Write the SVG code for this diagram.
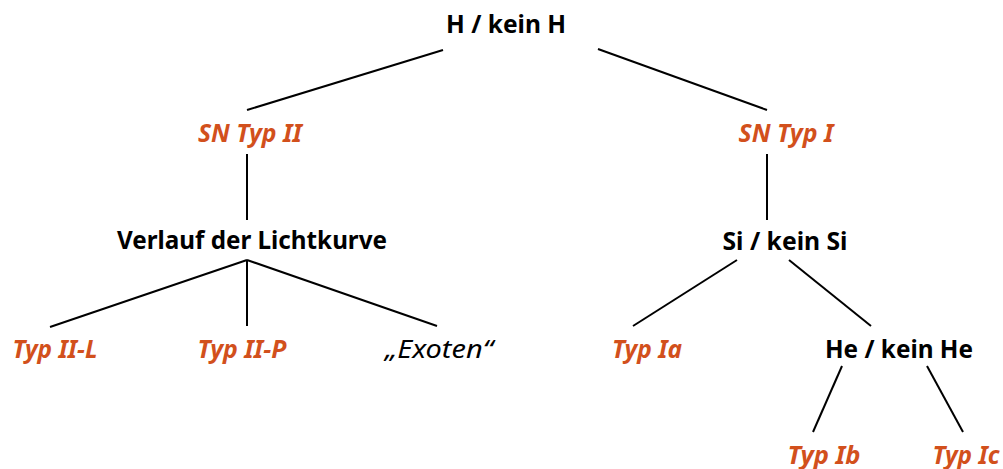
<svg xmlns="http://www.w3.org/2000/svg" width="1003" height="469" viewBox="0 0 1003 469">
<style>
text{font-family:"Noto Sans","Liberation Sans",sans-serif;font-weight:bold;font-size:25px;text-anchor:middle}
.q{fill:#000}
.t{fill:#D2501C;font-style:italic}
.e{fill:#000;font-style:italic;font-weight:normal}
#edges line{stroke:#000;stroke-width:2}
</style>
<rect width="1003" height="469" fill="#fff"/>
<g id="edges">
<line x1="443" y1="50" x2="247" y2="110"/>
<line x1="598" y1="49" x2="767" y2="110"/>
<line x1="247" y1="154" x2="247" y2="220"/>
<line x1="767" y1="154" x2="767" y2="220"/>
<line x1="247" y1="260" x2="50" y2="327"/>
<line x1="247" y1="260" x2="247" y2="326"/>
<line x1="247" y1="260" x2="437" y2="326"/>
<line x1="737" y1="260" x2="633" y2="326"/>
<line x1="789" y1="260" x2="871" y2="326"/>
<line x1="842" y1="366" x2="813" y2="432"/>
<line x1="927" y1="366" x2="963" y2="432"/>
</g>
<g id="n-root"><text class="q" x="506" y="33" textLength="120" lengthAdjust="spacingAndGlyphs">H / kein H</text></g>
<g id="n-sn2"><text class="t" x="250" y="142" textLength="104" lengthAdjust="spacingAndGlyphs">SN Typ II</text></g>
<g id="n-sn1"><text class="t" x="786" y="142" textLength="95" lengthAdjust="spacingAndGlyphs">SN Typ I</text></g>
<g id="n-verlauf"><text class="q" x="252" y="249" textLength="270" lengthAdjust="spacingAndGlyphs">Verlauf der Lichtkurve</text></g>
<g id="n-si"><text class="q" x="785" y="250" textLength="125" lengthAdjust="spacingAndGlyphs">Si / kein Si</text></g>
<g id="n-2l"><text class="t" x="55" y="358" textLength="85" lengthAdjust="spacingAndGlyphs">Typ II-L</text></g>
<g id="n-2p"><text class="t" x="242" y="358" textLength="89" lengthAdjust="spacingAndGlyphs">Typ II-P</text></g>
<g id="n-exo"><text class="e" x="439" y="358" textLength="108" lengthAdjust="spacingAndGlyphs">„Exoten“</text></g>
<g id="n-1a"><text class="t" x="647" y="358" textLength="70" lengthAdjust="spacingAndGlyphs">Typ Ia</text></g>
<g id="n-he"><text class="q" x="899" y="358" textLength="148" lengthAdjust="spacingAndGlyphs">He / kein He</text></g>
<g id="n-1b"><text class="t" x="824" y="464" textLength="73" lengthAdjust="spacingAndGlyphs">Typ Ib</text></g>
<g id="n-1c"><text class="t" x="966" y="464" textLength="67" lengthAdjust="spacingAndGlyphs">Typ Ic</text></g>
</svg>
